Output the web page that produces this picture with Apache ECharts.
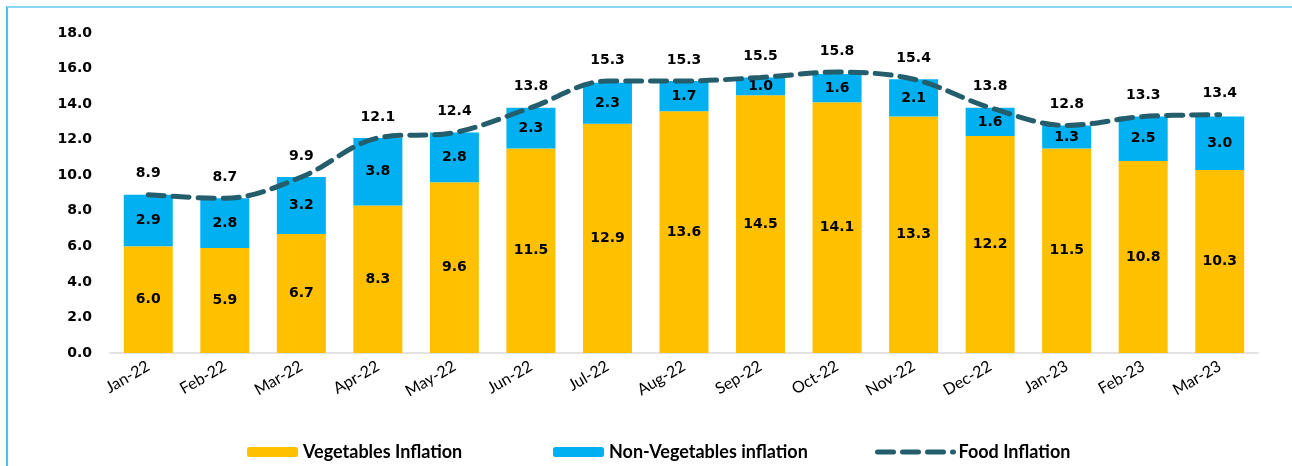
<!DOCTYPE html>
<html>
<head>
<meta charset="utf-8">
<script src="https://cdn.jsdelivr.net/npm/echarts@6/dist/echarts.min.js"></script>
<style>
  html, body { margin: 0; padding: 0; background: #fff; }
  #frame { position: absolute; left: 6px; top: 6px; width: 1286px; height: 460px;
    border-top: 2px solid #8AD8F8; border-left: 2px solid #4FC0EE; box-sizing: border-box; }
  #chart { position: absolute; left: 0; top: 0; width: 1292px; height: 466px; }
</style>
</head>
<body>
<div id="frame"></div>
<div id="chart"></div>
<script>
// data
const months = ['Jan-22', 'Feb-22', 'Mar-22', 'Apr-22', 'May-22', 'Jun-22', 'Jul-22', 'Aug-22',
  'Sep-22', 'Oct-22', 'Nov-22', 'Dec-22', 'Jan-23', 'Feb-23', 'Mar-23'];
const vegetables = [6.0, 5.9, 6.7, 8.3, 9.6, 11.5, 12.9, 13.6, 14.5, 14.1, 13.3, 12.2, 11.5, 10.8, 10.3];
const nonVegetables = [2.9, 2.8, 3.2, 3.8, 2.8, 2.3, 2.3, 1.7, 1.0, 1.6, 2.1, 1.6, 1.3, 2.5, 3.0];
const food = [8.9, 8.7, 9.9, 12.1, 12.4, 13.8, 15.3, 15.3, 15.5, 15.8, 15.4, 13.8, 12.8, 13.3, 13.4];

const labelFont = { fontFamily: 'DejaVu Sans', fontWeight: 'bold', fontSize: 14, color: '#000' };
const legendText = { fontFamily: 'Lato', fontWeight: 'bold', fontSize: 18, color: '#000' };
const fmt = p => p.value.toFixed(1);
const lineColor = '#245D6C';

const chart = echarts.init(document.getElementById('chart'), null, { renderer: 'canvas' });

chart.setOption({
  animation: false,
  backgroundColor: 'transparent',
  grid: { left: 110, right: 34, top: 33, bottom: 113 },
  legend: [
    { data: ['Vegetables Inflation'], left: 247, top: 443, padding: 0, itemWidth: 51, itemHeight: 10, itemGap: 4, textStyle: legendText },
    { data: ['Non-Vegetables inflation'], left: 553, top: 443, padding: 0, itemWidth: 51, itemHeight: 10, textStyle: legendText },
    { data: ['Food Inflation'], left: 875, top: 443, padding: 0, itemWidth: 76, itemHeight: 10, textStyle: legendText,
      itemStyle: { opacity: 0 }, lineStyle: { width: 5, type: [16, 9], cap: 'round' } },
  ],
  xAxis: {
    type: 'category',
    data: months,
    axisLine: { lineStyle: { color: '#D9D9D9', width: 1.5 } },
    axisTick: { show: false },
    axisLabel: { rotate: 30, margin: 12, color: '#000', fontFamily: 'Lato', fontSize: 16 },
  },
  yAxis: {
    type: 'value',
    min: 0,
    max: 18,
    interval: 2,
    splitLine: { show: false },
    axisLine: { show: false },
    axisTick: { show: false },
    axisLabel: { ...labelFont, margin: 18, formatter: v => v.toFixed(1) },
  },
  series: [
    {
      name: 'Vegetables Inflation',
      type: 'bar',
      stack: 'total',
      data: vegetables,
      barWidth: 49,
      itemStyle: { color: '#FFC000' },
      label: { show: true, position: 'inside', formatter: fmt, ...labelFont },
    },
    {
      name: 'Non-Vegetables inflation',
      type: 'bar',
      stack: 'total',
      data: nonVegetables,
      barWidth: 49,
      itemStyle: { color: '#00B0F0' },
      label: { show: true, position: 'inside', formatter: fmt, ...labelFont },
    },
    {
      name: 'Food Inflation',
      type: 'line',
      data: food,
      smooth: 0.35,
      symbol: 'circle',
      symbolSize: 2,
      showSymbol: true,
      z: 5,
      lineStyle: { color: lineColor, width: 5, type: [16, 9], cap: 'round' },
      itemStyle: { color: 'rgba(0,0,0,0)' },
      label: { show: true, position: 'top', distance: 13, formatter: fmt, ...labelFont },
    },
  ],
});
</script>
</body>
</html>
